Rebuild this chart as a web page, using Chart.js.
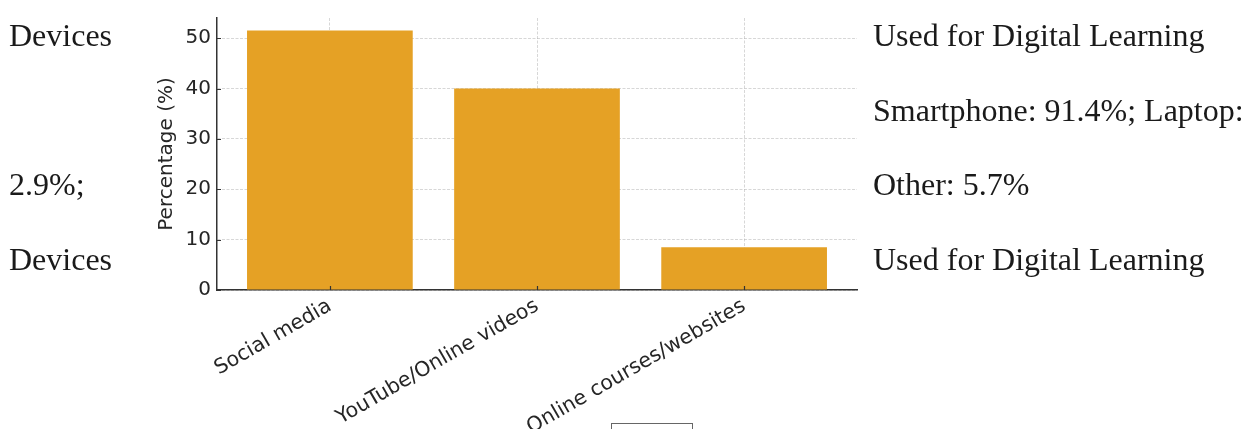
<!DOCTYPE html>
<html>
<head>
<meta charset="utf-8">
<script src="https://cdn.jsdelivr.net/npm/chart.js@4.4.1/dist/chart.umd.min.js"></script>
<style>
  html, body { margin: 0; padding: 0; background: #fff; }
  #wrap { position: relative; width: 1252px; height: 429px; overflow: hidden; }
  #myChart { position: absolute; left: 0; top: 0; }
  .side { position: absolute; font-family: "Liberation Serif", "Times New Roman", serif;
          font-size: 32px; line-height: 32px; color: #1a1a1a; white-space: nowrap; }
  #box { position: absolute; left: 611px; top: 423px; width: 80px; height: 20px;
         border: 1.5px solid #666; border-bottom: none; }
</style>
</head>
<body>
<div id="wrap">
  <canvas id="myChart" width="1252" height="429"></canvas>
  <div id="box"></div>
</div>
<script>
const categories = ["Social media", "YouTube/Online videos", "Online courses/websites"];
const percentages = [51.5, 40.0, 8.5];
const yTickValues = [0, 10, 20, 30, 40, 50];

// surrounding page text (left column, right column)
const leftLines = ["Devices", "", "2.9%;", "Devices"];
const rightLines = ["Used for Digital Learning", "Smartphone: 91.4%; Laptop:", "Other: 5.7%", "Used for Digital Learning"];
const lineBaselines = [46, 121, 195, 270];

const wrap = document.getElementById('wrap');
function addLines(lines, left) {
  lines.forEach((txt, i) => {
    if (!txt) return;
    const d = document.createElement('div');
    d.className = 'side';
    d.textContent = txt;
    d.style.left = left + 'px';
    d.style.top = (lineBaselines[i] - 27) + 'px';
    wrap.appendChild(d);
  });
}
addLines(leftLines, 9);
addLines(rightLines, 873);

// matplotlib-style ticks pointing into the plot
const inwardTicks = {
  id: 'inwardTicks',
  afterDraw(chart) {
    const {ctx, chartArea, scales: {x, y}} = chart;
    ctx.save();
    ctx.strokeStyle = '#333';
    ctx.lineWidth = 1.2;
    ctx.beginPath();
    y.ticks.forEach((t, i) => {
      const py = Math.round(y.getPixelForTick(i)) + 0.5;
      ctx.moveTo(chartArea.left, py);
      ctx.lineTo(chartArea.left + 4, py);
    });
    x.ticks.forEach((t, i) => {
      const px = Math.round(x.getPixelForTick(i)) + 0.5;
      ctx.moveTo(px, chartArea.bottom);
      ctx.lineTo(px, chartArea.bottom - 4);
    });
    ctx.stroke();
    ctx.restore();
  }
};

const gridStyle = {
  color: 'rgba(176,176,176,0.5)',
  lineWidth: 1,
  drawTicks: false
};

new Chart("myChart", {
  type: "bar",
  data: {
    datasets: [{
      data: categories.map((c, i) => ({x: i, y: percentages[i]})),
      backgroundColor: "#E5A125",
      borderWidth: 0,
      barPercentage: 1.0,
      categoryPercentage: 0.8
    }]
  },
  plugins: [inwardTicks],
  options: {
    responsive: false,
    animation: false,
    layout: { padding: { left: 140, right: 395, top: 16, bottom: 0 } },
    plugins: { legend: { display: false }, tooltip: { enabled: false } },
    scales: {
      x: {
        type: 'linear',
        min: -0.545,
        max: 2.545,
        offset: false,
        z: 1,
        afterBuildTicks: (scale) => {
          scale.ticks = categories.map((c, i) => ({value: i}));
        },
        afterFit: (scale) => { scale.height = 139; },
        grid: { ...gridStyle, offset: false },
        border: { display: true, color: '#333', width: 1.5, dash: [3, 1.5] },
        ticks: {
          autoSkip: false,
          minRotation: 30,
          maxRotation: 30,
          padding: 4,
          color: '#262626',
          font: { family: "DejaVu Sans", size: 20.5 },
          callback: (v) => categories[v]
        }
      },
      y: {
        min: 0,
        max: 54,
        z: 1,
        afterBuildTicks: (scale) => {
          scale.ticks = yTickValues.map(v => ({value: v}));
        },
        afterFit: (scale) => { scale.width = 77; },
        grid: gridStyle,
        border: { display: true, color: '#333', width: 1.5, dash: [3, 1.5] },
        title: {
          display: true,
          text: "Percentage (%)",
          color: '#262626',
          font: { family: "DejaVu Sans", size: 20 },
          padding: { top: 15, bottom: 0 }
        },
        ticks: {
          padding: 6,
          color: '#262626',
          font: { family: "DejaVu Sans", size: 20 }
        }
      }
    }
  }
});
</script>
</body>
</html>
